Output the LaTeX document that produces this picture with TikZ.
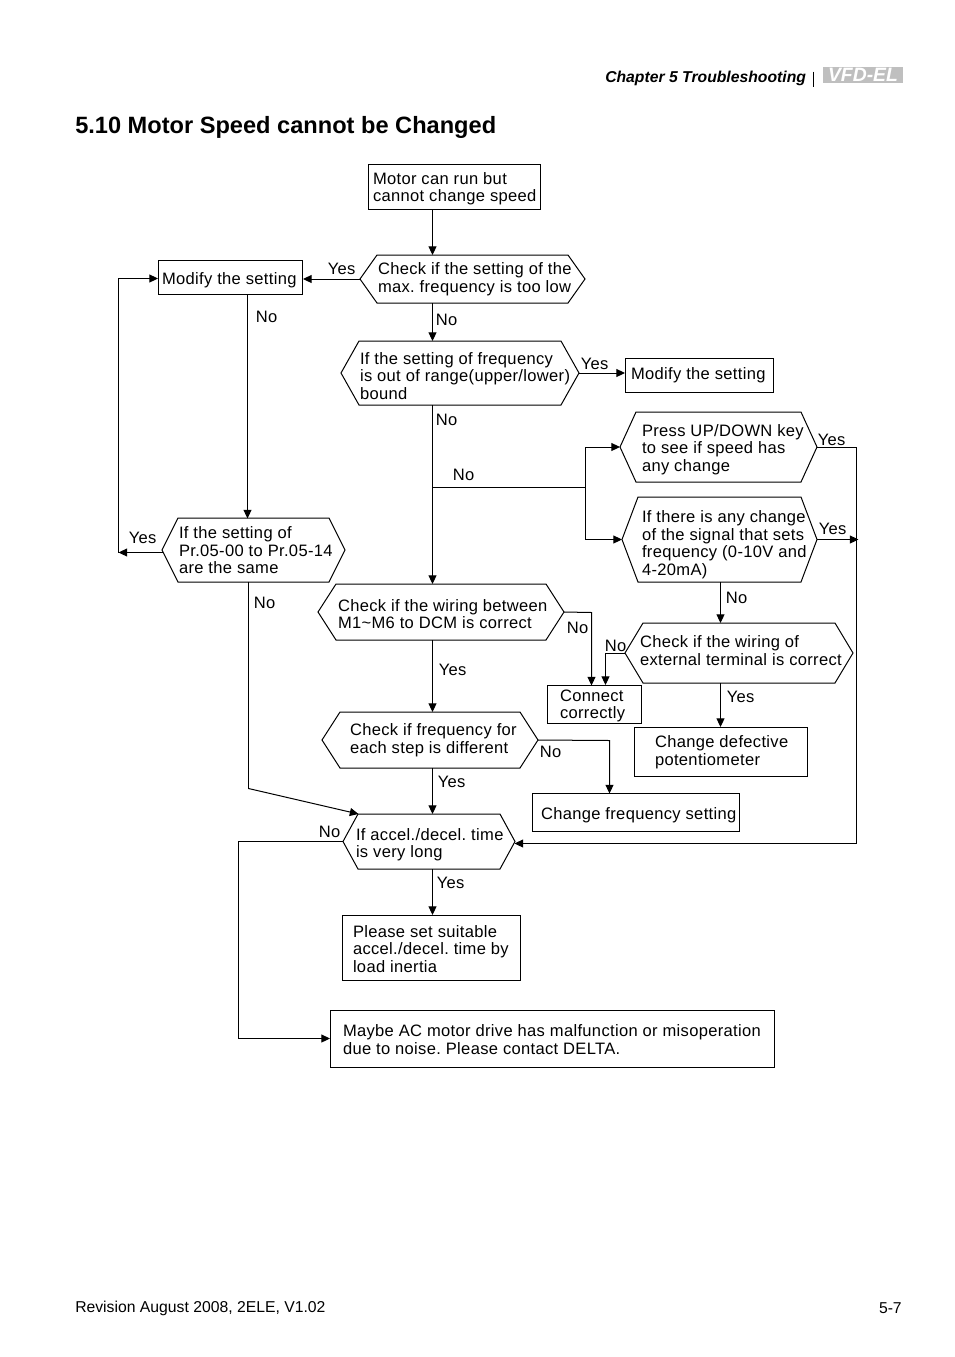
\documentclass[tikz,border=0pt]{standalone}
\usepackage{fontspec}
\setmainfont{Liberation Sans}
\newfontfamily\bodyf{Liberation Sans}[LetterSpace=2]
\usetikzlibrary{arrows.meta,calc}
\newdimen\pxu \pxu=0.75pt
\tikzset{
  line/.style={line width=0.75pt,black},
  arr/.style={line,-{Triangle[length=6.5pt,width=6pt]}},
  lbl/.style={anchor=west,inner sep=0pt,font=\bodyf\fontsize{12.4pt}{13pt}\selectfont},
  free/.style={anchor=west,inner sep=0pt},
  box/.style={inner sep=0pt,line width=0.75pt}
}
% name x1 x2 y1 y2 pad dy text opts
\newcommand{\bxnode}[9][]{%
  \pgfmathsetlengthmacro{\bw}{(#4-#3)*0.75pt}%
  \pgfmathsetlengthmacro{\bh}{(#6-#5)*0.75pt}%
  \node[box,#1,minimum width=\bw,minimum height=\bh] (#2) at ({(#3+#4)/2},{(#5+#6)/2})
   {\makebox[\bw][l]{\hspace*{#7\pxu}\raisebox{\dimexpr #8\pxu-3.1pt\relax}[0pt][0pt]{\bodyf\fontsize{12.4pt}{13.1pt}\selectfont\frenchspacing\renewcommand{\arraystretch}{1}\begin{tabular}{@{}l@{}}#9\end{tabular}}}};%
}
\newcommand{\hexpath}[2]{%
  \draw[line] (#1.west) -- ([xshift=#2*0.75pt]#1.north west) -- ([xshift=-#2*0.75pt]#1.north east) -- (#1.east)
   -- ([xshift=-#2*0.75pt]#1.south east) -- ([xshift=#2*0.75pt]#1.south west) -- cycle;%
}
\begin{document}
\begin{tikzpicture}[x=0.75pt,y=-0.75pt]
\useasboundingbox (0,0) rectangle (954,1357);
% header and footer
\node[free,font=\bfseries\itshape\fontsize{11.8pt}{14pt}\selectfont] (chap) at (605,78) {Chapter 5 Troubleshooting};
\node[inner sep=0pt,fill=black!25,text=white,minimum width=60pt,minimum height=12pt,font=\bfseries\itshape\fontsize{14.5pt}{12pt}\selectfont] (logo) at (863,74.5) {VFD-EL};
\node[free,font=\bfseries\fontsize{17.7pt}{20pt}\selectfont] (title) at (75,127) {5.10 Motor Speed cannot be Changed};
\node[free,font=\fontsize{11.8pt}{14pt}\selectfont] (foot) at (75,1308) {Revision August 2008, 2ELE, V1.02};
\node[anchor=east,inner sep=0pt,font=\fontsize{11.8pt}{14pt}\selectfont] (page) at (902,1308) {5-7};
\begin{scope}[shift={(0.5,0.5)}]
\draw[line] (813,71) -- (813,86);
% boxes
\bxnode[draw]{start}{368}{540}{164}{209}{4.5}{-2.5}{Motor can run but\\cannot change speed}
\bxnode[draw]{modA}{158}{302}{260}{294}{3.5}{-3}{Modify the setting}
\bxnode[draw]{modB}{625}{773}{358}{392}{5.5}{-0.5}{Modify the setting}
\bxnode[draw]{conn}{547}{641}{685}{723}{12.5}{-2}{Connect\\correctly}
\bxnode[draw]{pot}{634}{807}{727}{776}{20.5}{-1}{Change defective\\potentiometer}
\bxnode[draw]{chgf}{532}{739}{793}{831}{8.5}{-3}{Change frequency setting}
\bxnode[draw]{please}{342}{520}{915}{980}{10.5}{-3}{Please set suitable\\accel./decel. time by\\load inertia}
\bxnode[draw]{maybe}{330}{774}{1010}{1067}{12.5}{-3}{Maybe AC motor drive has malfunction or misoperation\\due to noise. Please contact DELTA.}
% hexagons
\bxnode{hA}{360}{584}{255}{302}{17.5}{-1}{Check if the setting of the\\max. frequency is too low}\hexpath{hA}{17}
\bxnode{hB}{341}{578}{341}{404}{18.5}{-5}{If the setting of frequency\\is out of range(upper/lower)\\bound}\hexpath{hB}{18}
\bxnode{hC}{620}{816}{412}{481}{21.5}{-3}{Press UP/DOWN key\\to see if speed has\\any change}\hexpath{hC}{16}
\bxnode{hD}{622}{816}{497}{581}{19.5}{-6}{If there is any change\\of the signal that sets\\frequency (0-10V and\\4-20mA)}\hexpath{hD}{16}
\bxnode{hE}{162}{344}{518}{581}{16.5}{-2.5}{If the setting of\\Pr.05-00 to Pr.05-14\\are the same}\hexpath{hE}{16}
\bxnode{hF}{318}{563}{584}{639}{19.5}{-4.5}{Check if the wiring between\\M1\textasciitilde M6 to DCM is correct}\hexpath{hF}{18}
\bxnode{hG}{625}{852}{623}{682}{14.5}{0}{Check if the wiring of\\external terminal is correct}\hexpath{hG}{18}
\bxnode{hH}{322}{537}{712}{767}{27.5}{-1}{Check if frequency for\\each step is different}\hexpath{hH}{18}
\bxnode{hI}{343}{514}{814}{868}{12.5}{-4}{If accel./decel. time\\is very long}\hexpath{hI}{15}
% routing coordinates
\coordinate (spine) at (432,0);
\coordinate (branch) at (432,487);
\coordinate (fork) at (585,487);
\coordinate (rail) at (856,0);
\coordinate (railC) at (858,541);
\coordinate (hook) at (605,0);
\coordinate (loopB) at (118,552);
\coordinate (loopT) at (118,278);
\coordinate (hEw) at (162,552);
\coordinate (hEs) at (248,581);
\coordinate (kink) at (248,788);
\coordinate (hIin) at (358,813.5);
\coordinate (hIe) at (514,843);
\coordinate (midD) at (720,0);
% connectors
\draw[arr] (start.south -| spine) -- (hA.north -| spine);
\draw[arr] (hA.west) -- (modA.east |- hA.west);
\draw[arr] (hA.south -| spine) -- (hB.north -| spine);
\draw[arr] (hB.east) -- (modB.west |- hB.east);
\draw[arr] (hB.south -| spine) -- (hF.north -| spine);
\draw[line] (branch) -- (fork);
\draw[line] (fork |- hC.west) -- (fork |- hD.west);
\draw[arr] (fork |- hC.west) -- (hC.west);
\draw[arr] (fork |- hD.west) -- (hD.west);
\draw[line] (hC.east) -- (hC.east -| rail) -- (hIe -| rail);
\draw[arr] (hIe -| rail) -- (hIe);
\draw[arr] (hD.east) -- (hD.east -| railC);
\draw[arr] (hD.south -| midD) -- (hG.north -| midD);
\draw[arr] (hG.south -| midD) -- (pot.north -| midD);
\draw[arr] (hG.west) -- (hG.west -| hook) -- (hook |- conn.north);
\draw[arr] (hF.east) -- (591,612) -- (591,685);
\draw[arr] (hF.south -| spine) -- (hH.north -| spine);
\draw[arr] (hH.east) -- (609,740) -- (609,793);
\draw[arr] (hH.south -| spine) -- (hI.north -| spine);
\draw[arr] (hI.south -| spine) -- (please.north -| spine);
\draw[arr] (hI.west) -- (hI.west -| 238,0) -- (238,1038) -- (maybe.west |- 0,1038);
\draw[arr] (247,294) -- (247,518);
\draw[arr] (hEw) -- (loopB);
\draw[arr] (loopB) -- (loopT) -- (modA.west |- loopT);
\draw[line,line width=1.2pt] (hEs) -- (kink);
\draw[arr] (kink) -- (hIin);
\end{scope}
% labels
\begin{scope}[shift={(-0.5,-0.5)}]
\node[lbl] (t1) at (328,269) {Yes};
\node[lbl] (t2) at (436,320) {No};
\node[lbl] (t3) at (581,364) {Yes};
\node[lbl] (t4) at (436,420) {No};
\node[lbl] (t5) at (453,475) {No};
\node[lbl] (t6) at (818,440) {Yes};
\node[lbl] (t7) at (819,529) {Yes};
\node[lbl] (t8) at (726,598) {No};
\node[lbl] (t9) at (727,697) {Yes};
\node[lbl] (t10) at (605,646) {No};
\node[lbl] (t11) at (567,628) {No};
\node[lbl] (t12) at (439,670) {Yes};
\node[lbl] (t13) at (540,752) {No};
\node[lbl] (t14) at (438,782) {Yes};
\node[lbl] (t15) at (437,883) {Yes};
\node[lbl] (t16) at (319,832) {No};
\node[lbl] (t17) at (256,317) {No};
\node[lbl] (t18) at (129,538) {Yes};
\node[lbl] (t19) at (254,603) {No};
\end{scope}
\end{tikzpicture}
\end{document}
